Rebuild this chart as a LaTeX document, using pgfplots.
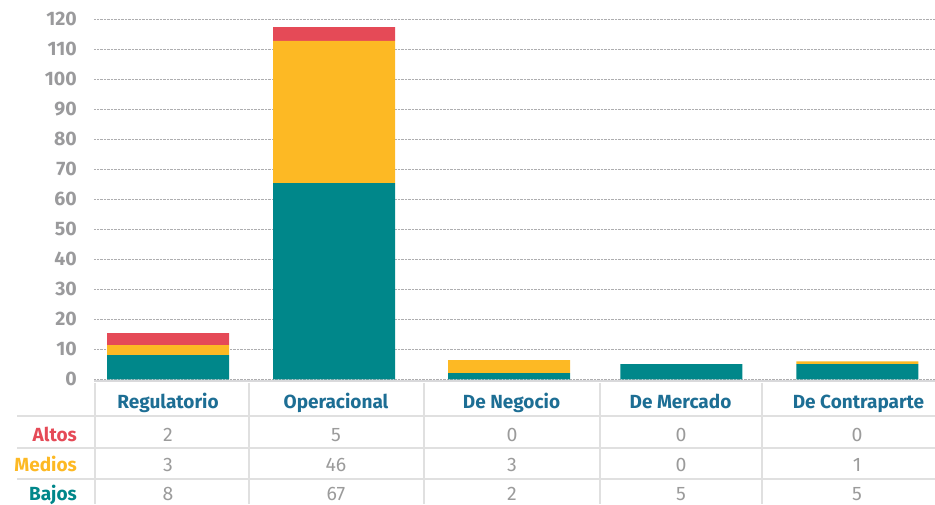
\documentclass[border=0pt]{standalone}
\usepackage{pgfplots}
\pgfplotsset{compat=1.18}
\usepackage{fontspec}
\setmainfont{Fira Sans}
\definecolor{cbajo}{HTML}{00878A}
\definecolor{cmedio}{HTML}{FDB924}
\definecolor{calto}{HTML}{E54A57}
\definecolor{chead}{HTML}{1D6E94}
\definecolor{cnum}{HTML}{9B9B9B}
\definecolor{ctick}{HTML}{9A9A9C}
\definecolor{cline}{HTML}{E0E0E0}
\definecolor{caxis}{HTML}{D9D9DB}
\begin{document}
\fontsize{19}{22}\selectfont
\begin{tikzpicture}[x=1pt,y=1pt]
\path[use as bounding box] (0,0) rectangle (935,504);
\begin{axis}[
  at={(94pt,124.7pt)}, anchor=south west,
  scale only axis, width=841pt, height=360pt,
  xmin=-0.43, xmax=4.45, ymin=0, ymax=120,
  axis line style={draw=none},
  major tick length=0pt,
  xtick=\empty,
  ytick={0,10,...,120},
  ymajorgrids,
  grid style={densely dotted, color=ctick!80, line width=0.7pt},
  /pgf/number format/assume math mode=true,
  yticklabel style={anchor=east, inner sep=0pt, xshift=-17pt, font=\fontsize{19.5}{22}\selectfont\bfseries, text=ctick},
  ybar stacked, bar width=122pt,
  every axis plot/.append style={draw=none},
]
\addplot[fill=cbajo] coordinates {(0,8.1) (0.963,65.4) (1.979,2.1) (2.978,5.1) (4,5.1)};
\addplot[fill=cmedio] coordinates {(0,3.3) (0.963,47.4) (1.979,4.3) (2.978,0) (4,0.9)};
\addplot[fill=calto] coordinates {(0,4.0) (0.963,4.6) (1.979,0) (2.978,0) (4,0)};
\end{axis}
% table
\draw[line width=2.5pt, color=caxis] (94,123) -- (935,123);
\foreach \y in {88,56,25} \draw[line width=1.5pt, color=cline] (17,\y) -- (935,\y);
\foreach \x in {95,249,424,600,762} \draw[line width=1.5pt, color=cline] (\x,121.5) -- (\x,0);
\begin{scope}[every node/.style={inner sep=0pt, anchor=base}]
\foreach \x/\t in {168/Regulatorio,336/Operacional,511.5/De Negocio,680.5/De Mercado,858.5/De Contraparte}
  \node[text=chead, font=\bfseries] at (\x,95.7) {\t};
\node[anchor=base east, text=calto, font=\bfseries] at (77,62.3) {Altos};
\node[anchor=base east, text=cmedio, font=\bfseries] at (77,32.3) {Medios};
\node[anchor=base east, text=cbajo, font=\bfseries] at (77,4) {Bajos};
\foreach \x/\a/\m/\b in {168/2/3/8,336/5/46/67,512/0/3/2,681/0/0/5,857/0/1/5}{
  \node[text=cnum, font=\fontsize{19.5}{22}\selectfont] at (\x,62.3) {\a};
  \node[text=cnum, font=\fontsize{19.5}{22}\selectfont] at (\x,32.3) {\m};
  \node[text=cnum, font=\fontsize{19.5}{22}\selectfont] at (\x,4) {\b};
}
\end{scope}
\end{tikzpicture}
\end{document}
